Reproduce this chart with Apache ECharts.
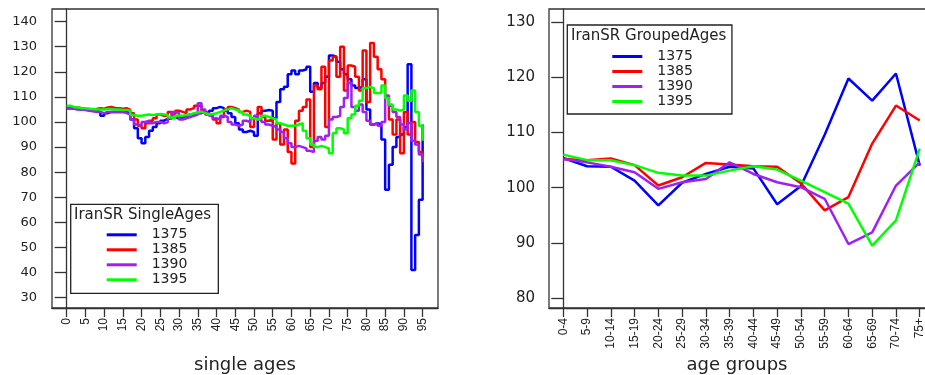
<!DOCTYPE html>
<html>
<head>
<meta charset="utf-8">
<script src="https://cdn.jsdelivr.net/npm/echarts@6/dist/echarts.min.js"></script>
<style>
  html, body { margin: 0; padding: 0; background: #fff; }
  #chart { width: 925px; height: 375px; }
</style>
</head>
<body>
<div id="chart"></div>
<script>
// Sex ratio by single year of age (males per 100 females), census years 1375-1395
const singleAges = [
  0, 1, 2, 3, 4, 5, 6, 7, 8, 9, 10, 11, 12, 13, 14, 15, 16, 17, 18, 19,
  20, 21, 22, 23, 24, 25, 26, 27, 28, 29, 30, 31, 32, 33, 34, 35, 36, 37, 38, 39,
  40, 41, 42, 43, 44, 45, 46, 47, 48, 49, 50, 51, 52, 53, 54, 55, 56, 57, 58, 59,
  60, 61, 62, 63, 64, 65, 66, 67, 68, 69, 70, 71, 72, 73, 74, 75, 76, 77, 78, 79,
  80, 81, 82, 83, 84, 85, 86, 87, 88, 89, 90, 91, 92, 93, 94, 95
];
const singleAgeTicks = [0, 5, 10, 15, 20, 25, 30, 35, 40, 45, 50, 55, 60, 65, 70, 75, 80, 85, 90, 95];
const singleRatioTicks = [30, 40, 50, 60, 70, 80, 90, 100, 110, 120, 130, 140];

const sr1375 = [
  105.5, 105.3, 105.2, 105.0, 105.0, 104.8, 104.7, 104.5, 104.0, 102.5,
  103.5, 104.0, 104.0, 104.0, 104.0, 104.0, 103.5, 101.0, 97.5, 93.5,
  91.5, 94.0, 96.5, 98.0, 99.5, 100.5, 101.2, 101.5, 101.8, 101.5,
  102.0, 102.5, 103.0, 103.2, 103.5, 103.5, 104.0, 103.5, 104.5, 105.5,
  106.0, 105.5, 104.5, 103.5, 102.0, 99.5, 97.0, 96.0, 96.5, 96.0,
  94.5, 103.5, 104.5, 104.8, 104.5, 101.5, 108.0, 113.0, 114.0, 119.0,
  120.5, 119.0, 120.5, 121.0, 122.0, 112.0, 115.5, 113.5, 115.5, 118.0,
  126.5, 126.0, 124.0, 121.0, 119.0, 117.0, 114.5, 113.5, 114.0, 117.0,
  105.0, 99.0, 99.5, 99.0, 93.0, 73.0, 83.0, 90.0, 94.0, 95.0,
  98.0, 123.0, 41.0, 55.0, 69.0, 99.0
];
const sr1385 = [
  105.5, 105.5, 105.8, 105.5, 105.0, 105.2, 105.0, 105.2, 105.5, 105.3,
  105.8, 106.0, 105.5, 105.5, 105.3, 105.5, 104.8, 103.5, 101.0, 98.5,
  97.5, 99.5, 100.5, 101.5, 103.0, 102.5, 102.5, 104.0, 103.0, 104.5,
  104.0, 103.5, 105.0, 105.5, 106.5, 106.5, 104.5, 103.0, 102.5, 101.0,
  99.5, 102.0, 105.0, 106.0, 105.5, 105.0, 104.0, 104.5, 104.0, 98.0,
  101.5, 106.0, 102.0, 100.5, 101.0, 93.0, 99.5, 91.0, 97.0, 88.0,
  83.5, 100.5, 104.5, 106.0, 109.0, 90.0, 114.5, 113.0, 122.0, 98.0,
  124.5, 126.0, 118.0, 130.0, 112.5, 122.5, 122.0, 118.0, 112.5, 128.5,
  108.0, 131.5, 126.0, 121.0, 117.0, 110.0, 101.0, 95.0, 101.0, 87.5,
  104.0, 95.0, 100.0, 92.0, 88.0, 84.5
];
const sr1390 = [
  105.5, 105.3, 105.0, 105.0, 104.8, 104.5, 104.3, 104.0, 104.0, 103.5,
  104.0, 104.0, 104.0, 104.0, 104.0, 103.5, 103.0, 101.0, 99.0, 98.5,
  100.0, 100.5, 99.5, 100.0, 100.0, 99.5, 100.0, 101.5, 104.0, 103.5,
  101.0, 101.5, 102.0, 102.5, 103.0, 107.5, 105.0, 103.5, 102.5, 101.5,
  101.0, 102.5, 102.0, 100.0, 99.0, 98.5, 99.0, 100.5, 100.0, 101.5,
  102.5, 101.0, 100.0, 99.0, 98.5, 98.0, 97.0, 96.0, 93.5, 91.5,
  90.0, 90.5, 90.0, 89.5, 88.5, 88.0, 92.5, 94.0, 93.0, 94.5,
  101.0, 102.0, 102.5, 106.0, 109.5, 115.5, 106.0, 104.5, 107.0, 104.0,
  100.5, 99.0, 99.5, 98.5, 100.0, 110.5, 106.5, 104.0, 102.0, 99.0,
  97.0, 99.5, 92.5, 91.0, 87.0, 84.0
];
const sr1395 = [
  106.5, 106.0, 105.8, 105.5, 105.5, 105.3, 105.2, 105.0, 105.0, 105.0,
  105.2, 105.2, 105.0, 105.0, 104.8, 104.8, 104.5, 102.8, 102.5, 102.5,
  102.8, 103.0, 102.8, 103.0, 103.2, 103.0, 102.8, 101.8, 101.5, 102.5,
  102.5, 102.8, 103.0, 103.5, 103.8, 104.0, 103.5, 103.0, 103.2, 103.5,
  104.0, 104.5, 105.0, 105.5, 105.0, 104.8, 104.0, 103.0, 102.5, 101.5,
  101.0, 101.5, 102.5, 102.0, 101.5, 101.0, 99.5, 99.0, 98.5, 98.5,
  98.5, 99.0, 99.5, 96.5, 93.5, 91.0, 90.0, 90.5, 90.0, 89.5,
  87.5, 95.5, 97.5, 97.0, 95.5, 101.5, 103.0, 106.5, 108.5, 113.5,
  114.0, 113.5, 111.5, 111.5, 114.5, 109.5, 107.0, 105.0, 104.5, 105.0,
  110.5, 108.5, 112.5, 104.0, 98.5, 92.5
];

// Sex ratio by five-year age group
const groupLabels = [
  '0-4', '5-9', '10-14', '15-19', '20-24', '25-29', '30-34', '35-39',
  '40-44', '45-49', '50-54', '55-59', '60-64', '65-69', '70-74', '75+'
];
const groupRatioTicks = [80, 90, 100, 110, 120, 130];
const gr1375 = [105.4, 103.9, 103.8, 101.3, 96.8, 100.9, 102.5, 103.8, 103.5, 97.0, 100.3, 109.6, 119.8, 115.8, 120.7, 104.0];
const gr1385 = [105.2, 105.0, 105.3, 104.1, 100.4, 101.9, 104.5, 104.2, 103.9, 103.8, 100.8, 95.9, 98.3, 108.0, 114.9, 112.2];
const gr1390 = [105.2, 104.6, 103.8, 102.8, 99.8, 101.0, 101.6, 104.6, 102.5, 101.0, 100.1, 98.0, 89.8, 91.9, 100.4, 104.6];
const gr1395 = [106.0, 105.0, 105.0, 104.1, 102.7, 102.2, 102.2, 103.1, 103.9, 103.3, 101.3, 99.2, 97.1, 89.5, 94.1, 107.1];

const years = ['1375', '1385', '1390', '1395'];
const yearColors = ['#0000ff', '#ff0000', '#a020f0', '#00ff00'];
const singleSeries = [sr1375, sr1385, sr1390, sr1395];
const groupSeries = [gr1375, gr1385, gr1390, gr1395];

const INK = '#222';
const FRAME = '#333';
const WIDE_FONT = 'DejaVu Sans';
const TICK_FONT = 'Liberation Sans';

// axis ranges (the grouped panel runs past the right edge of the page:
// its plot box is 385px wide but only 376px of it fit, so its x range is trimmed)
const SINGLE_X = [-3.9, 99.1];
const SINGLE_Y = [25.9, 145.0];
const GROUP_BOX_WIDTH = 385;
const GROUP_VISIBLE_WIDTH = 376;
const GROUP_X = [-0.6, -0.6 + 16.2 * GROUP_VISIBLE_WIDTH / GROUP_BOX_WIDTH];
const GROUP_Y = [78.2, 132.4];

function valueAxisX(gridIndex, range, ticks, name, formatter) {
  return {
    type: 'value', gridIndex, min: range[0], max: range[1],
    axisLine: { show: true, lineStyle: { color: FRAME, width: 1.3 } },
    axisTick: { show: true, customValues: ticks, length: 9, lineStyle: { color: FRAME, width: 1.3 } },
    axisLabel: {
      customValues: ticks, rotate: 90, margin: 10,
      fontFamily: TICK_FONT, fontSize: 12, color: INK,
      formatter: formatter || (v => String(v))
    },
    splitLine: { show: false },
    name, nameLocation: 'middle', nameGap: 48,
    nameTextStyle: { fontFamily: WIDE_FONT, fontSize: 18, color: INK }
  };
}

function valueAxisY(gridIndex, range, ticks, fontSize, margin) {
  return {
    type: 'value', gridIndex, min: range[0], max: range[1],
    axisLine: { show: true, lineStyle: { color: FRAME, width: 1.3 } },
    axisTick: { show: true, customValues: ticks, length: 12, lineStyle: { color: FRAME, width: 1.3 } },
    axisLabel: { customValues: ticks, margin, fontFamily: WIDE_FONT, fontSize, color: INK },
    splitLine: { show: false }
  };
}

function legendBox(left, top, padding) {
  return {
    data: years.map(y => ({ name: y, icon: 'rect' })),
    orient: 'vertical', left, top, padding,
    itemWidth: 30, itemHeight: 3, itemGap: 0,
    borderColor: INK, borderWidth: 1.3, backgroundColor: '#fff',
    selectedMode: false,
    textStyle: { fontFamily: WIDE_FONT, fontSize: 14, color: INK, lineHeight: 15, padding: [0, 0, 0, 10] }
  };
}

const series = [];
years.forEach((year, k) => {
  series.push({
    name: year, type: 'line', xAxisIndex: 0, yAxisIndex: 0,
    step: 'end', showSymbol: false, symbol: 'none',
    lineStyle: { color: yearColors[k], width: 2.5 },
    itemStyle: { color: yearColors[k] },
    data: singleAges.map((age, i) => [age, singleSeries[k][i]])
  });
});
years.forEach((year, k) => {
  series.push({
    name: year, type: 'line', xAxisIndex: 1, yAxisIndex: 1,
    showSymbol: false, symbol: 'none',
    lineStyle: { color: yearColors[k], width: 2.5 },
    itemStyle: { color: yearColors[k] },
    data: groupLabels.map((label, i) => [i, groupSeries[k][i]])
  });
});

const chart = echarts.init(document.getElementById('chart'), null, { renderer: 'canvas' });
chart.setOption({
  animation: false,
  backgroundColor: '#fff',
  color: yearColors,
  grid: [
    { left: 52, top: 9, width: 386, height: 299, containLabel: false, outerBoundsMode: 'none' },
    { left: 549, top: 9, width: GROUP_VISIBLE_WIDTH, height: 299, containLabel: false, outerBoundsMode: 'none' }
  ],
  xAxis: [
    valueAxisX(0, SINGLE_X, singleAgeTicks, 'single ages'),
    valueAxisX(1, GROUP_X, groupLabels.map((_, i) => i), 'age groups', v => groupLabels[v] || '')
  ],
  yAxis: [
    valueAxisY(0, SINGLE_Y, singleRatioTicks, 13, 15),
    valueAxisY(1, GROUP_Y, groupRatioTicks, 15, 14)
  ],
  legend: [
    legendBox(70.7, 204.3, [23, 31, 6, 36]),
    legendBox(567.3, 25, [24, 39, 5, 45])
  ],
  title: [
    { text: 'IranSR SingleAges', left: 74, top: 206.5, padding: 0, z: 10,
      textStyle: { fontFamily: WIDE_FONT, fontSize: 15, fontWeight: 'normal', color: INK, lineHeight: 17 } },
    { text: 'IranSR GroupedAges', left: 571, top: 27.5, padding: 0, z: 10,
      textStyle: { fontFamily: WIDE_FONT, fontSize: 15, fontWeight: 'normal', color: INK, lineHeight: 17 } }
  ],
  series
});

// closed box round each plot, taken from the corners of its axes
function plotFrame(axisIndex, xRange, yRange, extraRight) {
  const finder = { xAxisIndex: axisIndex, yAxisIndex: axisIndex };
  const topLeft = chart.convertToPixel(finder, [xRange[0], yRange[1]]);
  const bottomRight = chart.convertToPixel(finder, [xRange[1], yRange[0]]);
  return {
    type: 'rect', silent: true, z: 100,
    shape: {
      x: topLeft[0], y: topLeft[1],
      width: bottomRight[0] - topLeft[0] + extraRight,
      height: bottomRight[1] - topLeft[1]
    },
    style: { fill: 'none', stroke: FRAME, lineWidth: 1.3 }
  };
}
chart.setOption({
  graphic: [
    plotFrame(0, SINGLE_X, SINGLE_Y, 0),
    plotFrame(1, GROUP_X, GROUP_Y, 20)
  ]
});
</script>
</body>
</html>
